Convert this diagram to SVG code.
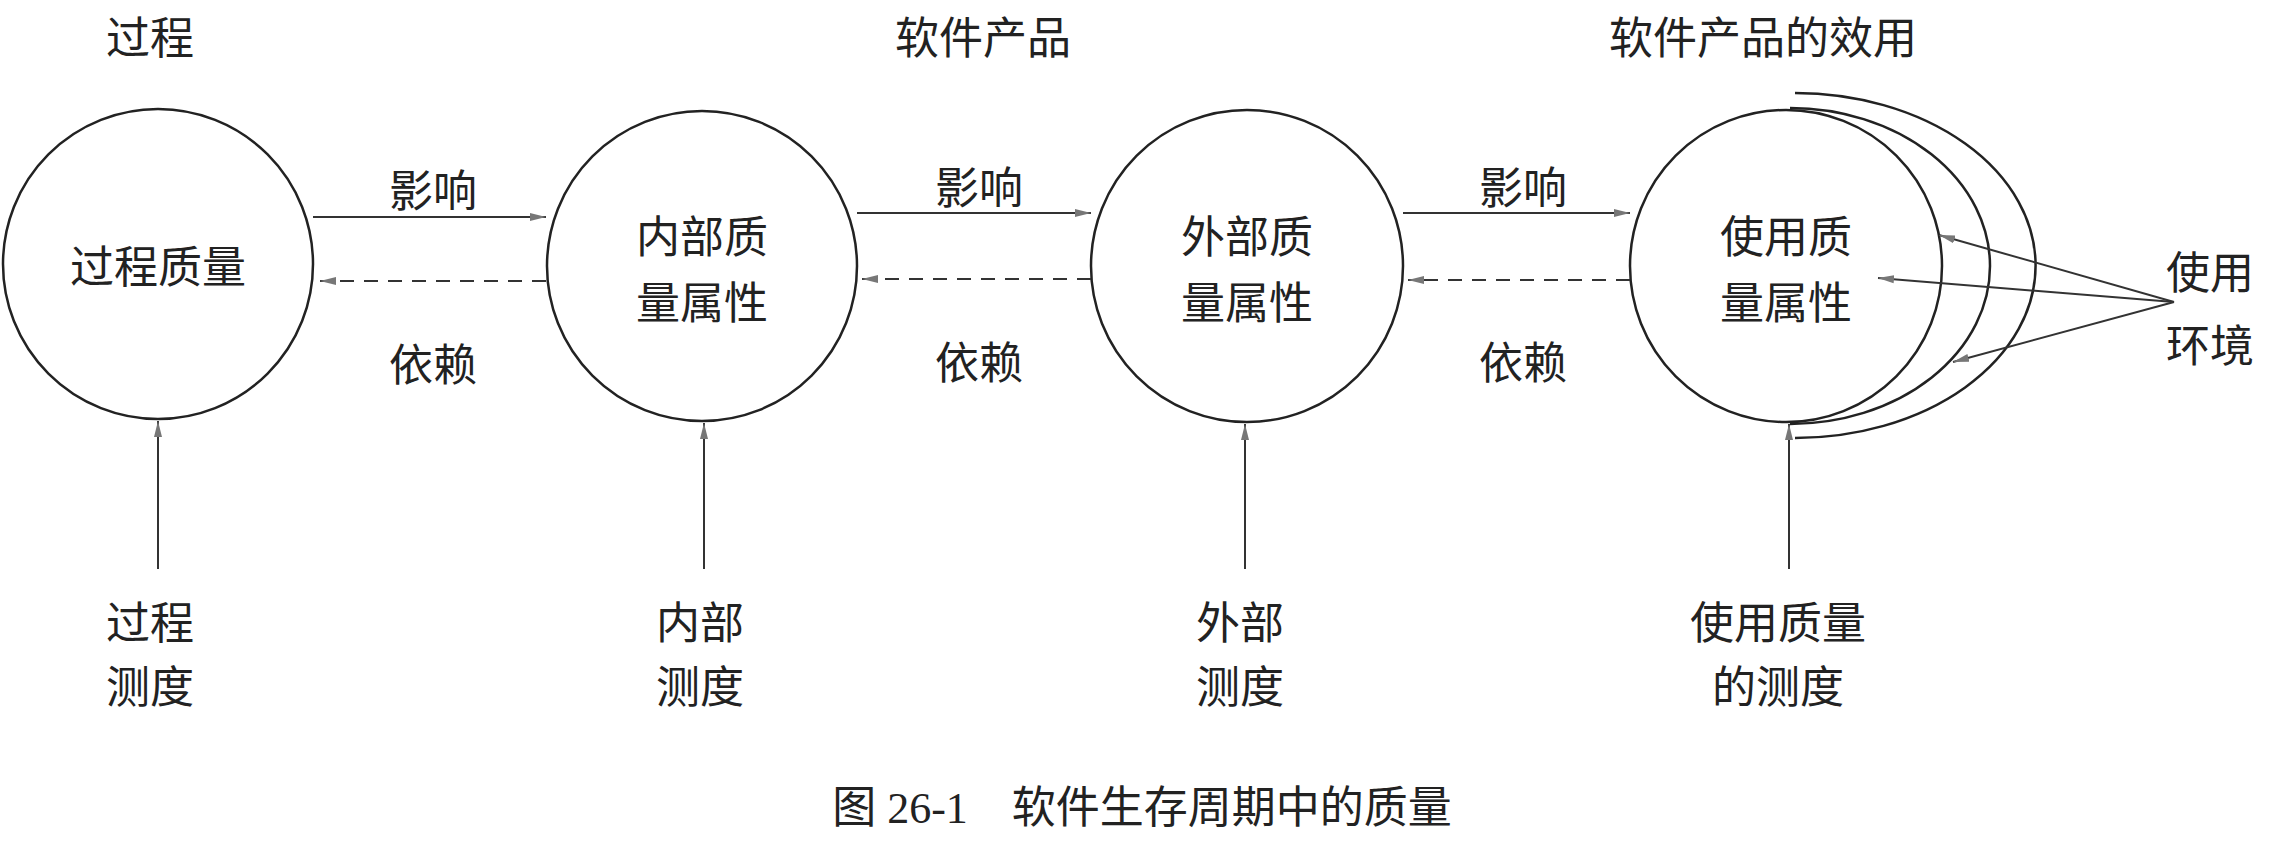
<svg xmlns="http://www.w3.org/2000/svg" width="2285" height="841" viewBox="0 0 2285 841">
<style>
text{font-family:"Noto Sans CJK SC",sans-serif;font-size:44px;fill:#222;text-anchor:middle;dominant-baseline:central}
.c{fill:none;stroke:#222;stroke-width:2.5}
.l{stroke:#333;stroke-width:2;fill:none}
.d{stroke:#333;stroke-width:2;fill:none;stroke-dasharray:14 10}
.cap{font-family:"Liberation Serif","Noto Sans CJK SC",serif}
</style>
<defs>
<marker id="a" viewBox="0 0 16 10" refX="16" refY="5" markerWidth="16" markerHeight="10" markerUnits="userSpaceOnUse" orient="auto"><path d="M0 1 L16 5 L0 9 Z" fill="#777"/></marker>
</defs>
<g id="titles">
<text x="150" y="35">过程</text>
<text x="983" y="35">软件产品</text>
<text x="1763" y="35">软件产品的效用</text>
</g>
<g id="n1"><circle class="c" cx="158" cy="264" r="155"/><text x="158" y="264">过程质量</text></g>
<g id="n2"><circle class="c" cx="702" cy="266" r="155"/><text x="702" y="234">内部质</text><text x="702" y="300">量属性</text></g>
<g id="n3"><circle class="c" cx="1247" cy="266" r="156"/><text x="1247" y="234">外部质</text><text x="1247" y="300">量属性</text></g>
<g id="n4"><path class="c" d="M1790 108 A200 158 0 0 1 1790 424"/><path class="c" d="M1795 93 A240 172 0 0 1 1795 438"/><circle class="c" cx="1786" cy="266" r="156"/><text x="1786" y="234">使用质</text><text x="1786" y="300">量属性</text></g>
<g id="labels">
<text x="433" y="188">影响</text><text x="433" y="362">依赖</text>
<text x="979" y="185">影响</text><text x="979" y="360">依赖</text>
<text x="1523" y="185">影响</text><text x="1523" y="360">依赖</text>
<text x="2210" y="270">使用</text><text x="2210" y="343">环境</text>
<text x="150" y="620">过程</text><text x="150" y="684">测度</text>
<text x="700" y="620">内部</text><text x="700" y="684">测度</text>
<text x="1240" y="620">外部</text><text x="1240" y="684">测度</text>
<text x="1778" y="620">使用质量</text><text x="1778" y="684">的测度</text>
<text class="cap" x="1142" y="808">图 26-1　软件生存周期中的质量</text>
</g>
<g id="connectors">
<line class="l" x1="313" y1="217" x2="546" y2="217" marker-end="url(#a)"/>
<line class="d" x1="546" y1="281" x2="320" y2="281" marker-end="url(#a)"/>
<line class="l" x1="857" y1="213" x2="1091" y2="213" marker-end="url(#a)"/>
<line class="d" x1="1091" y1="279" x2="862" y2="279" marker-end="url(#a)"/>
<line class="l" x1="1403" y1="213" x2="1630" y2="213" marker-end="url(#a)"/>
<line class="d" x1="1630" y1="280" x2="1408" y2="280" marker-end="url(#a)"/>
<line class="l" x1="158" y1="569" x2="158" y2="421" marker-end="url(#a)"/>
<line class="l" x1="704" y1="569" x2="704" y2="423" marker-end="url(#a)"/>
<line class="l" x1="1245" y1="569" x2="1245" y2="424" marker-end="url(#a)"/>
<line class="l" x1="1789" y1="569" x2="1789" y2="424" marker-end="url(#a)"/>
<line class="l" x1="2174" y1="302" x2="1939" y2="235" marker-end="url(#a)"/>
<line class="l" x1="2174" y1="302" x2="1878" y2="278" marker-end="url(#a)"/>
<line class="l" x1="2174" y1="302" x2="1953" y2="362" marker-end="url(#a)"/>
</g>
</svg>
